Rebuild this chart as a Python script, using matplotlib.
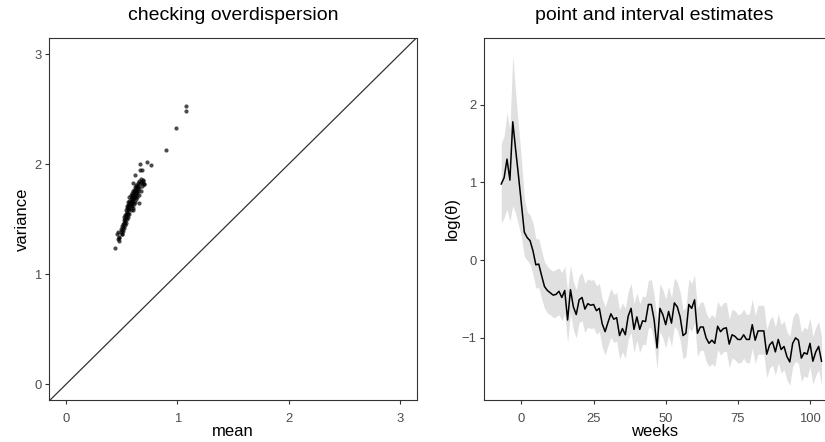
import numpy as np
import matplotlib
matplotlib.use('Agg')
import matplotlib.pyplot as plt

plt.rcParams['font.family'] = ['Liberation Sans', 'DejaVu Sans']

# --- panel izquierdo: media vs varianza ---
medias = [1.075, 1.075, 0.99, 0.90, 0.725, 0.763, 0.662, 0.665, 0.68, 0.62,
          0.599, 0.70, 0.695, 0.659, 0.605, 0.44, 0.47, 0.461, 0.476, 0.50,
          0.48, 0.49, 0.49, 0.50, 0.50, 0.51, 0.51, 0.52, 0.52, 0.52,
          0.53, 0.53, 0.53, 0.54, 0.54, 0.54, 0.55, 0.55, 0.55, 0.55,
          0.56, 0.56, 0.56, 0.56, 0.57, 0.57, 0.57, 0.57, 0.57, 0.58,
          0.58, 0.58, 0.58, 0.58, 0.59, 0.59, 0.59, 0.59, 0.59, 0.60,
          0.60, 0.60, 0.60, 0.60, 0.61, 0.61, 0.61, 0.61, 0.62, 0.62,
          0.62, 0.62, 0.63, 0.63, 0.63, 0.63, 0.64, 0.64, 0.64, 0.65,
          0.65, 0.65, 0.66, 0.66, 0.66, 0.67, 0.67, 0.68, 0.68, 0.69,
          0.70, 0.56, 0.58, 0.62, 0.64, 0.53, 0.51, 0.59, 0.61, 0.67,
          0.60, 0.63, 0.57, 0.55, 0.54, 0.50, 0.47, 0.48, 0.52, 0.66]
varianzas = [2.533, 2.485, 2.33, 2.133, 2.018, 1.994, 2.006, 1.948, 1.948, 1.903,
             1.827, 1.82, 1.857, 1.645, 1.585, 1.242, 1.388, 1.367, 1.327, 1.367,
             1.34, 1.38, 1.41, 1.44, 1.40, 1.46, 1.43, 1.49, 1.47, 1.52,
             1.50, 1.54, 1.48, 1.55, 1.52, 1.58, 1.57, 1.60, 1.54, 1.62,
             1.59, 1.63, 1.56, 1.66, 1.61, 1.64, 1.59, 1.67, 1.70, 1.62,
             1.66, 1.68, 1.72, 1.64, 1.65, 1.69, 1.71, 1.74, 1.67, 1.68,
             1.72, 1.70, 1.76, 1.66, 1.71, 1.74, 1.69, 1.77, 1.73, 1.76,
             1.70, 1.79, 1.75, 1.78, 1.72, 1.81, 1.77, 1.80, 1.74, 1.79,
             1.83, 1.76, 1.82, 1.85, 1.78, 1.84, 1.87, 1.83, 1.80, 1.85,
             1.82, 1.52, 1.58, 1.66, 1.70, 1.45, 1.39, 1.62, 1.64, 1.76,
             1.60, 1.68, 1.55, 1.50, 1.47, 1.37, 1.32, 1.30, 1.42, 1.72]

# --- panel derecho: estimaciones por semana ---
semanas = list(range(-7, 105))
estimacion = [0.98, 1.06, 1.30, 1.03, 1.78, 1.42, 1.08, 0.72, 0.36, 0.29,
              0.25, 0.12, -0.06, -0.05, -0.20, -0.34, -0.39, -0.42, -0.45, -0.44,
              -0.40, -0.48, -0.39, -0.77, -0.38, -0.60, -0.70, -0.51, -0.48, -0.63,
              -0.56, -0.58, -0.57, -0.65, -0.62, -0.82, -0.92, -0.80, -0.69, -0.76,
              -0.74, -0.97, -0.88, -0.96, -0.72, -0.62, -0.89, -0.73, -0.89, -0.78,
              -0.79, -0.57, -0.57, -0.77, -1.13, -0.62, -0.70, -0.83, -0.66, -0.81,
              -0.55, -0.60, -0.73, -0.97, -0.94, -0.57, -0.62, -0.51, -0.94, -0.86,
              -0.86, -1.00, -1.07, -1.03, -1.07, -0.85, -0.92, -0.88, -0.87, -1.08,
              -0.96, -0.98, -1.02, -1.02, -0.96, -1.02, -1.02, -0.83, -1.03, -0.91,
              -0.91, -0.91, -1.21, -1.09, -1.05, -1.18, -1.02, -1.15, -1.11, -1.24,
              -1.31, -1.07, -1.00, -1.03, -1.26, -1.19, -1.21, -1.07, -1.30, -1.18,
              -1.11, -1.30]
superior = [1.50, 1.60, 1.90, 1.68, 2.64, 2.15, 1.72, 1.30, 0.80, 0.62,
            0.58, 0.48, 0.28, 0.27, 0.12, -0.02, -0.08, -0.12, -0.14, -0.12,
            -0.10, -0.16, -0.08, -0.40, -0.06, -0.28, -0.38, -0.20, -0.16, -0.30,
            -0.24, -0.26, -0.25, -0.33, -0.30, -0.50, -0.60, -0.48, -0.36, -0.44,
            -0.42, -0.64, -0.55, -0.62, -0.40, -0.30, -0.56, -0.42, -0.56, -0.46,
            -0.47, -0.26, -0.25, -0.45, -0.78, -0.30, -0.38, -0.50, -0.34, -0.48,
            -0.23, -0.28, -0.41, -0.64, -0.61, -0.24, -0.30, -0.19, -0.62, -0.54,
            -0.54, -0.68, -0.75, -0.70, -0.74, -0.53, -0.60, -0.55, -0.54, -0.76,
            -0.63, -0.65, -0.70, -0.69, -0.63, -0.70, -0.69, -0.50, -0.71, -0.58,
            -0.58, -0.58, -0.89, -0.77, -0.72, -0.86, -0.69, -0.83, -0.78, -0.92,
            -0.98, -0.74, -0.67, -0.70, -0.93, -0.86, -0.89, -0.74, -0.98, -0.86,
            -0.79, -0.98]
inferior = [0.47, 0.55, 0.66, 0.50, 0.70, 0.60, 0.45, 0.30, 0.05, 0.00,
            -0.05, -0.18, -0.36, -0.35, -0.50, -0.62, -0.68, -0.70, -0.74, -0.73,
            -0.70, -0.78, -0.69, -1.06, -0.68, -0.90, -1.00, -0.80, -0.78, -0.93,
            -0.86, -0.88, -0.87, -0.95, -0.92, -1.12, -1.22, -1.10, -0.99, -1.06,
            -1.04, -1.27, -1.18, -1.26, -1.02, -0.93, -1.19, -1.03, -1.19, -1.08,
            -1.09, -0.87, -0.87, -1.07, -1.40, -0.92, -1.00, -1.13, -0.96, -1.11,
            -0.85, -0.90, -1.03, -1.27, -1.24, -0.87, -0.92, -0.81, -1.24, -1.16,
            -1.16, -1.30, -1.37, -1.33, -1.37, -1.15, -1.22, -1.18, -1.17, -1.38,
            -1.26, -1.28, -1.32, -1.32, -1.26, -1.32, -1.32, -1.13, -1.33, -1.21,
            -1.21, -1.21, -1.51, -1.39, -1.35, -1.48, -1.32, -1.45, -1.41, -1.54,
            -1.61, -1.37, -1.30, -1.33, -1.56, -1.49, -1.51, -1.37, -1.60, -1.48,
            -1.41, -1.60]

fig = plt.figure(figsize=(8.25, 4.42), dpi=100)
ax1 = fig.add_axes([49 / 825, 42 / 442, 368 / 825, 362 / 442])
ax2 = fig.add_axes([484 / 825, 42 / 442, 341 / 825, 362 / 442])

# izquierdo
ax1.plot([-1, 4], [-1, 4], color='#333333', lw=0.9, zorder=1)
ax1.scatter(medias, varianzas, s=9, color='black', alpha=0.7, linewidths=0, zorder=2)
ax1.set_xlim(-0.153, 3.154)
ax1.set_ylim(-0.143, 3.148)
ax1.set_xticks([0, 1, 2, 3])
ax1.set_yticks([0, 1, 2, 3])
ax1.set_xlabel('mean', fontsize=12, labelpad=-1)
ax1.set_ylabel('variance', fontsize=12, labelpad=3)
ax1.set_title('checking overdispersion', fontsize=14, pad=13)

# derecho
ax2.fill_between(semanas, inferior, superior, color='#e0e0e0', linewidth=0)
ax2.plot(semanas, estimacion, color='black', lw=1.1)
ax2.set_xlim(-12.97, 105.2)
ax2.set_ylim(-1.799, 2.858)
ax2.set_xticks([0, 25, 50, 75, 100])
ax2.set_yticks([-1, 0, 1, 2])
ax2.set_xlabel('weeks', fontsize=12, labelpad=-1)
ax2.set_ylabel('log(θ)', fontsize=12, labelpad=1)
ax2.set_title('point and interval estimates', fontsize=14, pad=13)
ax2.spines['right'].set_visible(False)

for ax in (ax1, ax2):
    for sp in ax.spines.values():
        sp.set_color('#333333')
        sp.set_linewidth(0.8)
    ax.tick_params(length=2.9, width=0.8, color='#333333', labelcolor='#4d4d4d',
                   labelsize=9.4)
    ax.tick_params(axis='x', pad=6.5)
    ax.tick_params(axis='y', pad=2.5)

fig.savefig('out.png', dpi=100)
